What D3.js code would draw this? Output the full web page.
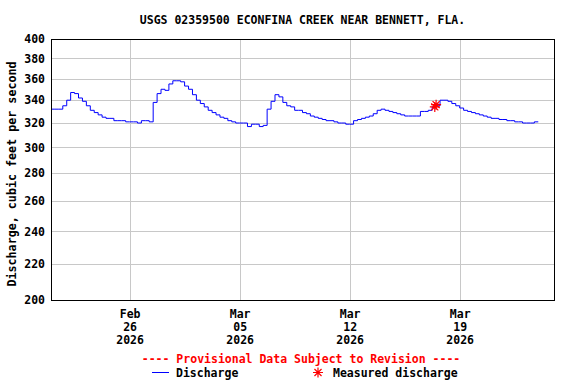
<!DOCTYPE html>
<html>
<head>
<meta charset="utf-8">
<script src="https://cdn.jsdelivr.net/npm/d3@7"></script>
<style>
  html, body { margin: 0; padding: 0; background: #fff; }
  svg text { font-family: "DejaVu Sans Mono", "Liberation Mono", monospace; font-weight: bold; }
</style>
</head>
<body>
<svg id="chart" width="576" height="384"></svg>
<script>
// ---- data ----
const title = "USGS 02359500 ECONFINA CREEK NEAR BENNETT, FLA.";
const yLabel = "Discharge, cubic feet per second";
const seriesStart = "2026-02-21T00:00:00";   // first reading
const seriesStepHours = 6;                     // reading interval
const discharge = [
  332, 332, 332, 335, 340, 347, 346, 342, 339, 335,
  331, 329, 327, 325, 324, 324, 322, 322, 322, 321,
  321, 321, 320, 322, 322, 321, 338, 346, 350, 349,
  355, 358, 358, 357, 353, 350, 345, 340, 337, 334,
  331, 329, 327, 325, 324, 322, 321, 320, 320, 320,
  317, 319, 319, 317, 318, 332, 339, 345, 343, 338,
  335, 334, 331, 331, 329, 328, 326, 325, 324, 323,
  322, 322, 321, 320, 320, 319, 319, 322, 323, 324,
  325, 326, 328, 331, 332, 331, 330, 329, 328, 327,
  326, 326, 326, 326, 330, 330, 331, 334, 335, 340,
  340, 339, 337, 335, 333, 331, 330, 329, 328, 327,
  326, 325, 324, 324, 323, 323, 322, 322, 321, 321,
  320, 320, 320, 321, 321
];
const measuredDates = ["2026-03-17T10:00:00", "2026-03-17T12:00:00"];
const measuredValues = [334, 336];
const xDomain = ["2026-02-21T00:00:00", "2026-03-25T00:00:00"];
const xTicks = ["2026-02-26T00:00:00", "2026-03-05T00:00:00", "2026-03-12T00:00:00", "2026-03-19T00:00:00"];
const yDomain = [200, 400];
const yTicks = [200, 220, 240, 260, 280, 300, 320, 340, 360, 380, 400];
const provisional = "---- Provisional Data Subject to Revision ----";
const legendLabels = ["Discharge", "Measured discharge"];

// ---- layout ----
const svg = d3.select("#chart");
const m = { left: 51, right: 554, top: 39, bottom: 300 };
const parse = d3.isoParse;
const start = parse(seriesStart);
const points = discharge.map((v, i) => ({ t: d3.timeHour.offset(start, i * seriesStepHours), v }));
const measured = measuredDates.map((d, i) => ({ t: parse(d), v: measuredValues[i] }));

const x = d3.scaleTime().domain(xDomain.map(parse)).range([m.left, m.right]);
const y = d3.scaleLog().domain(yDomain).range([m.bottom, m.top]);

// gridlines
const grid = svg.append("g");
grid.selectAll("line.h").data(yTicks).join("line")
  .attr("x1", m.left).attr("x2", m.right)
  .attr("y1", d => Math.round(y(d)) + 0.5).attr("y2", d => Math.round(y(d)) + 0.5)
  .attr("stroke", "#c8c8c8").attr("stroke-width", 1);
grid.selectAll("line.v").data(xTicks.map(parse)).join("line")
  .attr("y1", m.top).attr("y2", m.bottom)
  .attr("x1", d => Math.round(x(d)) + 0.5).attr("x2", d => Math.round(x(d)) + 0.5)
  .attr("stroke", "#c8c8c8").attr("stroke-width", 1);

// y axis labels
const yAxis = d3.axisLeft(y).tickValues(yTicks).tickFormat(d3.format("d")).tickSize(0).tickPadding(6);
const gy = svg.append("g").attr("transform", `translate(${m.left},0)`).call(yAxis);
gy.select(".domain").remove();
gy.selectAll("text").attr("font-size", 11.5).attr("fill", "#000")
  .style("font-family", '"DejaVu Sans Mono", monospace').style("font-weight", "bold");

// x axis labels (three lines)
const fmtMon = d3.timeFormat("%b"), fmtDay = d3.timeFormat("%d"), fmtYr = d3.timeFormat("%Y");
const xAxis = d3.axisBottom(x).tickValues(xTicks.map(parse)).tickSize(0).tickFormat("");
const gx = svg.append("g").attr("transform", `translate(0,${m.bottom})`).call(xAxis);
gx.select(".domain").remove();
gx.selectAll(".tick").each(function(d) {
  const t = d3.select(this).append("text").attr("fill", "#000").attr("text-anchor", "middle")
    .attr("font-size", 11.5);
  [fmtMon(d), fmtDay(d), fmtYr(d)].forEach((s, i) => {
    t.append("tspan").attr("x", 0).attr("y", 18 + i * 13).text(s);
  });
});

// discharge line
const line = d3.line().x(d => x(d.t)).y(d => y(d.v)).curve(d3.curveStepAfter);
svg.append("path").datum(points).attr("d", line)
  .attr("fill", "none").attr("stroke", "#0000ff").attr("stroke-width", 1);

// measured discharge markers
function starPath(r) {
  const s = r * Math.SQRT1_2;
  return `M${-r},0L${r},0M0,${-r}L0,${r}M${-s},${-s}L${s},${s}M${-s},${s}L${s},${-s}`;
}
svg.selectAll("path.meas").data(measured).join("path")
  .attr("transform", d => `translate(${x(d.t)},${y(d.v)})`)
  .attr("d", starPath(5)).attr("stroke", "#ff0000").attr("stroke-width", 1.2).attr("fill", "none");

// frame
svg.append("rect").attr("x", m.left + 0.5).attr("y", m.top + 0.5)
  .attr("width", m.right - m.left).attr("height", m.bottom - m.top)
  .attr("fill", "none").attr("stroke", "#000").attr("stroke-width", 1);

// title
svg.append("text").attr("x", (m.left + m.right) / 2).attr("y", 24).attr("text-anchor", "middle")
  .attr("font-size", 11.5).attr("fill", "#000").text(title);

// y label
svg.append("text").attr("transform", `translate(16,174) rotate(-90)`).attr("text-anchor", "middle")
  .attr("font-size", 11.7).attr("fill", "#000").text(yLabel);

// provisional notice
svg.append("text").attr("x", 301).attr("y", 363).attr("text-anchor", "middle")
  .attr("font-size", 11.5).attr("fill", "#ff0000").text(provisional);

// legend
const lg = svg.append("g");
lg.append("line").attr("x1", 152).attr("x2", 169).attr("y1", 372.5).attr("y2", 372.5)
  .attr("stroke", "#0000ff").attr("stroke-width", 1);
lg.append("text").attr("x", 176).attr("y", 377).attr("font-size", 11.5).attr("fill", "#000").text(legendLabels[0]);
lg.append("path").attr("transform", "translate(318,372.5)").attr("d", starPath(5))
  .attr("stroke", "#ff0000").attr("stroke-width", 1.2).attr("fill", "none");
lg.append("text").attr("x", 333).attr("y", 377).attr("font-size", 11.5).attr("fill", "#000").text(legendLabels[1]);
</script>
</body>
</html>
